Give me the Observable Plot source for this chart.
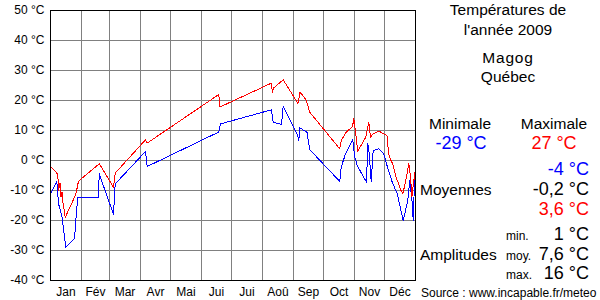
<!DOCTYPE html>
<html><head><meta charset="utf-8">
<script src="https://cdn.jsdelivr.net/npm/d3@7"></script>
<script src="https://cdn.jsdelivr.net/npm/@observablehq/plot@0.6"></script>
<style>body{margin:0;background:#fff} svg{display:block}</style>
</head><body><div id="chart"></div>
<script>
// Month boundaries (day of year) and labels
const monthStarts = [0,31,59,90,120,151,181,212,243,273,304,334,365];
const monthLabels = ["Jan","Fév","Mar","Avr","Mai","Jui","Jui","Aoû","Sep","Oct","Nov","Déc"];
const yTicks = [-40,-30,-20,-10,0,10,20,30,40,50];

// Daily maximum (red)
const maxDays  = [0.7,6.3,7.3,8,9.5,10.5,11.5,12.5,14.7,25.3,28,48,48.7,63,64.7,95,96.7,168.3,169.3,221,221.8,223.3,232.7,247.5,249.5,255.5,259.3,289.2,291,295.5,302,303.3,304,307.3,315.3,318.3,320,322.7,328.3,333.3,336.5,337.8,339,342.7,345,350.5,352.3,355,358.3,360,361.5,363.3,364.2,365];
const maxTemps = [-2.2,-4.2,-4.6,-10,-7.5,-12,-10.5,-14,-19,-11.3,-6.9,-1.3,-1,-8.9,-4.2,6.9,5.8,22,17.8,25.8,22.8,24.2,26.9,19,22.8,20.3,16.1,3.9,6.8,9.4,11.3,13.9,12.2,3.1,7.8,12.8,7.8,8.9,9.8,8.9,8.3,3.3,1.1,-1.5,-5,-10,-11.1,-7.2,-1.1,-5.6,-12,-6.7,-4,-10];

// Daily minimum (blue)
const minDays  = [0.7,6.3,8,11.3,15.3,24,25.3,27.3,48,48.7,63,64.7,95,96.7,168.3,170,221,222.7,231,232.7,247.3,248.3,249.3,256.5,259.3,289.3,290.7,295,302.3,304,306.7,316,317.3,318.8,320.7,322.7,328.3,333.3,336,341.7,346.7,352.7,355,357.3,359.3,361.7,362.7,364,365];
const minTemps = [-10.6,-6.9,-14.4,-18.3,-28.9,-26.1,-20,-12.2,-12.2,-4.4,-18,-7.8,3,-2,9.5,12.2,16.9,12.8,12,18,8.3,6.7,10.9,9.4,3.6,-7,-2.2,2.2,6.9,1.5,-1.7,-7.2,5.6,2.2,-7.2,3.3,3.9,2.2,-1.1,-7.2,-11.1,-20,-16.7,-13.3,-6.7,-14,-20,-7.2,-6];

// Summary panel values
const titleLines = ["Températures de","l'année 2009","Magog","Québec"];
const extremeLabels = ["Minimale","Maximale"];
const extremeValues = ["-29 °C","27 °C"];
const meanValues = ["-4 °C","-0,2 °C","3,6 °C"];
const amplitudeLabels = ["min.","moy.","max."];
const amplitudeValues = ["1 °C","7,6 °C","16 °C"];
const source = "Source : www.incapable.fr/meteo";

const monthMids = monthStarts.slice(0,-1).map((d,i) => (d + monthStarts[i+1]) / 2);
const maxData = maxDays.map((d,i) => ({day: d, t: maxTemps[i]}));
const minData = minDays.map((d,i) => ({day: d, t: minTemps[i]}));

const FONT = "'Liberation Sans', Arial, Helvetica, sans-serif";

const plot = Plot.plot({
  width: 600, height: 300,
  marginLeft: 50, marginRight: 185, marginTop: 10, marginBottom: 20,
  style: {fontFamily: FONT, fontSize: "12px", background: "#fff", color: "#000"},
  x: {domain: [0, 365]},
  y: {domain: [-40, 50]},
  marks: [
    Plot.gridX(monthStarts, {stroke: "#808080", strokeOpacity: 1, shapeRendering: "crispEdges"}),
    Plot.gridY(yTicks, {stroke: "#808080", strokeOpacity: 1, shapeRendering: "crispEdges"}),
    Plot.axisX(monthMids, {tickSize: 0, tickPadding: 7, label: null, fontSize: 12,
      tickFormat: d => monthLabels[monthMids.indexOf(d)]}),
    Plot.axisY(yTicks, {tickSize: 0, tickPadding: 6, label: null, fontSize: 12,
      tickFormat: d => `${d} °C`}),
    Plot.line(minData, {x: "day", y: "t", stroke: "#0000ff", strokeWidth: 1, shapeRendering: "crispEdges"}),
    Plot.line(maxData, {x: "day", y: "t", stroke: "#ff0000", strokeWidth: 1, shapeRendering: "crispEdges"}),
    Plot.frame({stroke: "#000", strokeWidth: 1, shapeRendering: "crispEdges"})
  ]
});

const svg = d3.select(plot);
function txt(s, x, y, opts = {}) {
  svg.append("text")
    .attr("x", x).attr("y", y)
    .attr("text-anchor", opts.anchor || "middle")
    .attr("font-family", FONT)
    .attr("font-size", opts.size || 15.5)
    .attr("fill", opts.fill || "#000")
    .attr("letter-spacing", opts.ls || 0)
    .text(s);
}
txt(titleLines[0], 508, 15);
txt(titleLines[1], 508, 35);
txt(titleLines[2], 508, 63, {ls: 0.8});
txt(titleLines[3], 508, 82);
txt(extremeLabels[0], 460, 129);
txt(extremeLabels[1], 554, 129);
txt(extremeValues[0], 461, 149, {size: 18, fill: "#0000ff"});
txt(extremeValues[1], 554, 149, {size: 18, fill: "#ff0000"});
txt(meanValues[0], 589, 175, {size: 18, fill: "#0000ff", anchor: "end"});
txt("Moyennes", 420, 195, {anchor: "start"});
txt(meanValues[1], 589, 195, {size: 18, anchor: "end"});
txt(meanValues[2], 589, 215, {size: 18, fill: "#ff0000", anchor: "end"});
txt(amplitudeLabels[0], 506, 240, {size: 12, anchor: "start"});
txt(amplitudeValues[0], 589, 240, {size: 18, anchor: "end"});
txt("Amplitudes", 420, 260, {anchor: "start"});
txt(amplitudeLabels[1], 506, 260, {size: 12, anchor: "start"});
txt(amplitudeValues[1], 589, 260, {size: 18, anchor: "end"});
txt(amplitudeLabels[2], 506, 279, {size: 12, anchor: "start"});
txt(amplitudeValues[2], 589, 279, {size: 18, anchor: "end"});
txt(source, 421, 297, {size: 12, anchor: "start"});

document.getElementById("chart").append(plot);
</script>
</body></html>
